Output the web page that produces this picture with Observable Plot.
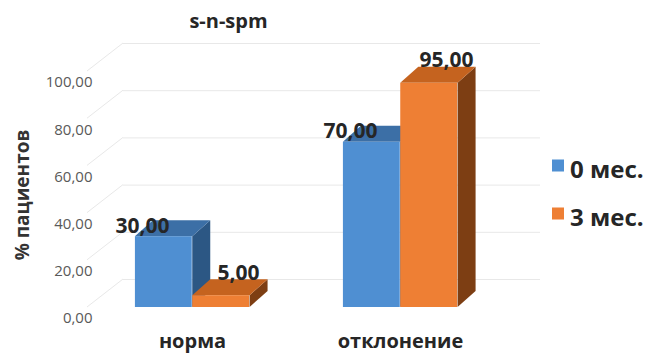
<!DOCTYPE html>
<html>
<head>
<meta charset="utf-8">
<script src="https://cdn.jsdelivr.net/npm/d3@7"></script>
<script src="https://cdn.jsdelivr.net/npm/@observablehq/plot@0.6"></script>
<style>
  body { margin: 0; background: #fff; }
  #chart svg { display: block; }
</style>
</head>
<body>
<div id="chart"></div>
<script>
// Chart data
const title = "s-n-spm";
const yLabel = "% пациентов";
const categories = ["норма", "отклонение"];
const series = ["0 мес.", "3 мес."];
const values0 = [30, 70];   // 0 мес.
const values3 = [5, 95];    // 3 мес.
const yTicks = [0, 20, 40, 60, 80, 100];

// Styling
const frontColors = ["#4f8fd2", "#ee7f34"];
const topColors = ["#3c6fa6", "#c5631f"];
const sideColors = ["#2c5784", "#7d3e13"];
const ink = "#262626";
const gridColor = "#e8e8e8";

// Layout
const W = 648, H = 356;
const ML = 87, MR = 144, MT = 40, MB = 49;
const DEPTH = [18, -16];   // bar depth offset in pixels
const WALL = [36, -28];    // back wall offset in pixels
const GROUP = 0.55;        // share of each category band taken by its bars

const fmt = v => d3.format(".2f")(v).replace(".", ",");

const rows = series.flatMap((s, k) =>
  categories.map((c, i) => ({category: c, series: s, value: (k === 0 ? values0 : values3)[i]}))
);

const bandwidth = (W - ML - MR) / categories.length;
const outerInset = bandwidth * (1 - GROUP) / 2;
const barWidth = bandwidth * GROUP / 2;

// Top and side faces of the bars in one series
function barFaces(k) {
  return (index, scales) => {
    const {x, y} = scales;
    const g = d3.create("svg:g");
    for (const d of rows.filter(r => r.series === series[k])) {
      const x0 = x(d.category) + outerInset + k * barWidth;
      const x1 = x0 + barWidth;
      const yt = y(d.value), yb = y(0);
      const [dx, dy] = DEPTH;
      g.append("path")
        .attr("d", `M${x1},${yt}L${x1 + dx},${yt + dy}L${x1 + dx},${yb + dy}L${x1},${yb}Z`)
        .attr("fill", sideColors[k]);
      g.append("path")
        .attr("d", `M${x0},${yt}L${x1},${yt}L${x1 + dx},${yt + dy}L${x0 + dx},${yt + dy}Z`)
        .attr("fill", topColors[k]);
    }
    return g.node();
  };
}

// Side wall lines joining the front of the y axis to the back wall
function sideWall(index, scales, values, dims) {
  const {y} = scales;
  const g = d3.create("svg:g").attr("stroke", gridColor).attr("fill", "none");
  for (const v of yTicks) {
    g.append("line")
      .attr("x1", dims.marginLeft).attr("y1", y(v))
      .attr("x2", dims.marginLeft + WALL[0]).attr("y2", y(v) + WALL[1]);
  }
  return g.node();
}

// Legend at the right of the plot
function legend(index, scales, values, dims) {
  const g = d3.create("svg:g");
  const left = dims.width - 96;
  const mid = (dims.marginTop + dims.height - dims.marginBottom) / 2 + 16;
  series.forEach((s, i) => {
    const cy = mid + (i - 0.5) * 48;
    g.append("rect")
      .attr("x", left).attr("y", cy - 6).attr("width", 12).attr("height", 12)
      .attr("fill", scales.color(s));
    g.append("text")
      .attr("x", left + 18).attr("y", cy + 12)
      .attr("text-anchor", "start")
      .attr("font-size", 24).attr("font-weight", "bold").attr("fill", ink)
      .text(s);
  });
  return g.node();
}

const bySeries = k => rows.filter(r => r.series === series[k]);

const chart = Plot.plot({
  width: W,
  height: H,
  marginLeft: ML,
  marginRight: MR,
  marginTop: MT,
  marginBottom: MB,
  style: {fontFamily: "'Open Sans', sans-serif", background: "#fff"},
  x: {domain: categories, padding: 0},
  y: {domain: [0, 100], range: [307, 71]},
  color: {domain: series, range: frontColors},
  marks: [
    Plot.ruleY(yTicks, {y: d => d, dx: WALL[0], dy: WALL[1], stroke: gridColor}),
    sideWall,
    barFaces(0),
    Plot.barY(bySeries(0), {x: "category", y: "value", fill: "series",
      insetLeft: outerInset, insetRight: outerInset + barWidth}),
    barFaces(1),
    Plot.barY(bySeries(1), {x: "category", y: "value", fill: "series",
      insetLeft: outerInset + barWidth, insetRight: outerInset}),
    Plot.text(bySeries(0), {x: "category", y: "value", text: d => fmt(d.value),
      dx: -50, dy: -4, lineAnchor: "bottom", fontSize: 21, fontWeight: "bold", fill: ink}),
    Plot.text(bySeries(1), {x: "category", y: "value", text: d => fmt(d.value),
      dx: 46, dy: -16, lineAnchor: "bottom", fontSize: 21, fontWeight: "bold", fill: ink}),
    Plot.axisY(yTicks, {tickSize: 0, tickPadding: 0, dx: 5, dy: 11, tickFormat: fmt,
      fontSize: 15, color: "#595959", label: null}),
    Plot.axisX({tickSize: 0, tickPadding: 26, fontSize: 20, fontWeight: "bold",
      color: ink, label: null}),
    Plot.text([title], {frameAnchor: "top-left", dx: 141, dy: -13, lineAnchor: "bottom",
      textAnchor: "middle", fontSize: 20, fontWeight: "bold", fill: ink}),
    Plot.text([yLabel], {frameAnchor: "left", rotate: -90, dx: -65, dy: 21,
      textAnchor: "middle", fontSize: 19, fontWeight: "bold", fill: "#333"}),
    legend
  ]
});

document.getElementById("chart").append(chart);
</script>
</body>
</html>
